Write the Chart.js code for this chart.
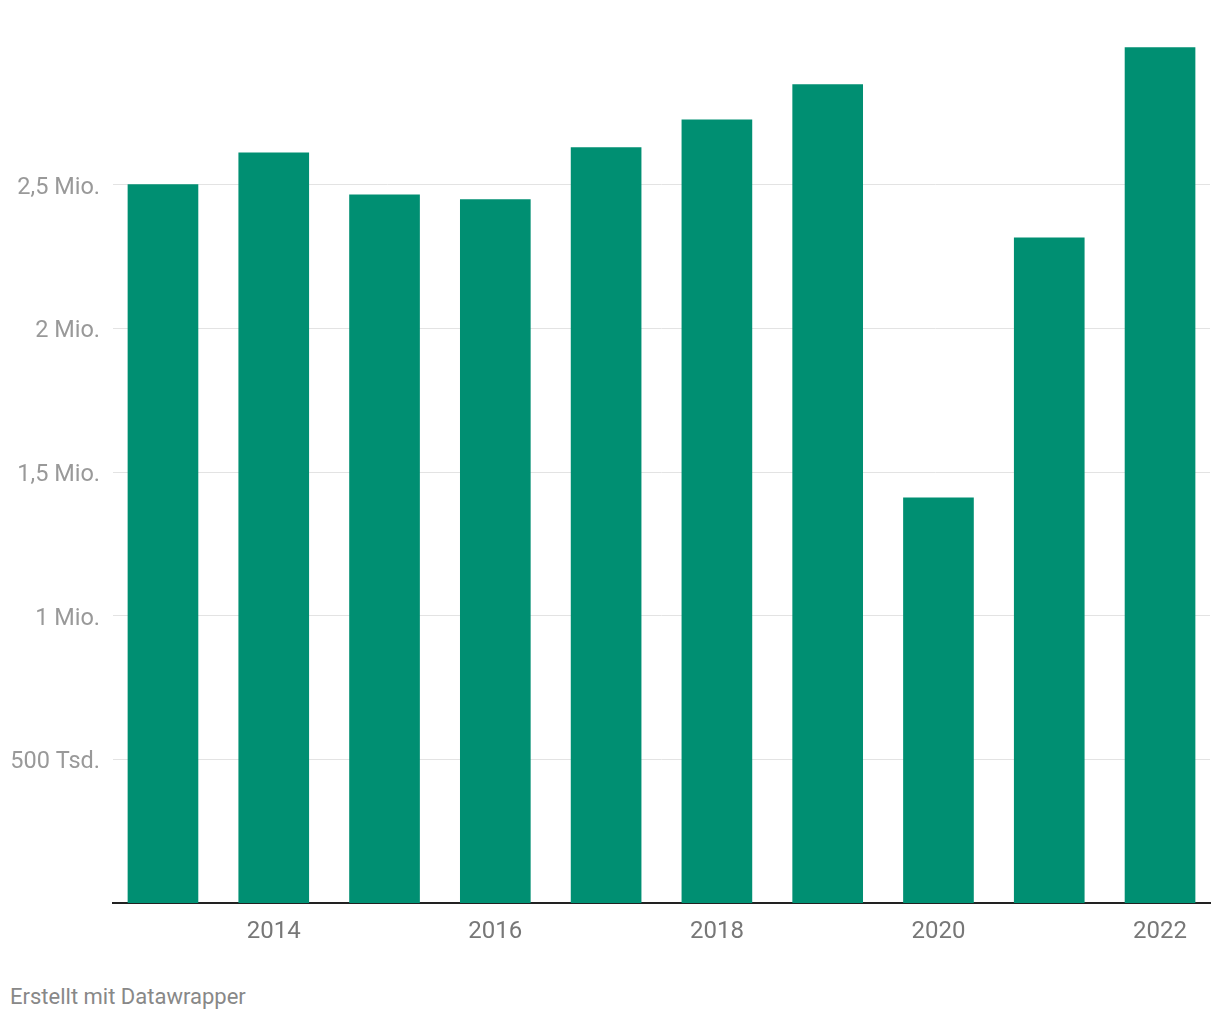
<!DOCTYPE html>
<html>
<head>
<meta charset="utf-8">
<script src="https://cdn.jsdelivr.net/npm/chart.js@4/dist/chart.umd.min.js"></script>
<style>
  html, body { margin: 0; padding: 0; background: #fff; }
  #wrap { position: relative; width: 1220px; height: 960px; }
  #footer {
    position: absolute; left: 10px; top: 984px;
    font-family: Roboto, sans-serif; font-size: 22px; color: #888;
  }
</style>
</head>
<body>
<div id="wrap"><canvas id="chart"></canvas></div>
<div id="footer">Erstellt mit Datawrapper</div>
<script>
// Daten
const years = [2013, 2014, 2015, 2016, 2017, 2018, 2019, 2020, 2021, 2022];
const values = [2500000, 2611000, 2465000, 2448000, 2629000, 2726000, 2848000, 1410000, 2315000, 2977000];
const xTicks = [2014, 2016, 2018, 2020, 2022];
const yTicks = [500000, 1000000, 1500000, 2000000, 2500000];
const yLabels = ['500 Tsd.', '1 Mio.', '1,5 Mio.', '2 Mio.', '2,5 Mio.'];

const ctx = document.getElementById('chart').getContext('2d');

new Chart(ctx, {
    type: 'bar',
    data: {
        datasets: [{
            data: years.map((y, i) => ({ x: y, y: values[i] })),
            backgroundColor: '#008f72',
            barThickness: 70,
            borderWidth: 0
        }]
    },
    options: {
        responsive: true,
        maintainAspectRatio: false,
        animation: false,
        layout: { padding: { top: 41, right: 10, left: 0, bottom: 0 } },
        plugins: {
            legend: { display: false },
            tooltip: { enabled: false }
        },
        scales: {
            x: {
                type: 'linear',
                offset: false,
                min: 2012.549,
                max: 2022.451,
                afterBuildTicks: axis => { axis.ticks = xTicks.map(v => ({ value: v })); },
                afterFit: axis => { axis.height = 57; },
                grid: { display: false, drawTicks: false },
                border: { color: '#222', width: 2 },
                ticks: {
                    color: '#777',
                    padding: 15,
                    font: { family: 'Roboto', size: 24 },
                    callback: v => String(v)
                }
            },
            y: {
                min: 0,
                max: 3000000,
                afterBuildTicks: axis => { axis.ticks = yTicks.map(v => ({ value: v })); },
                afterFit: axis => { axis.width = 113; },
                grid: { color: '#e3e3e3', lineWidth: 1, drawTicks: false },
                border: { display: false },
                ticks: {
                    color: '#999',
                    padding: 13,
                    labelOffset: 3,
                    font: { family: 'Roboto', size: 23.5 },
                    callback: v => yLabels[yTicks.indexOf(v)]
                }
            }
        }
    }
});
</script>
</body>
</html>
